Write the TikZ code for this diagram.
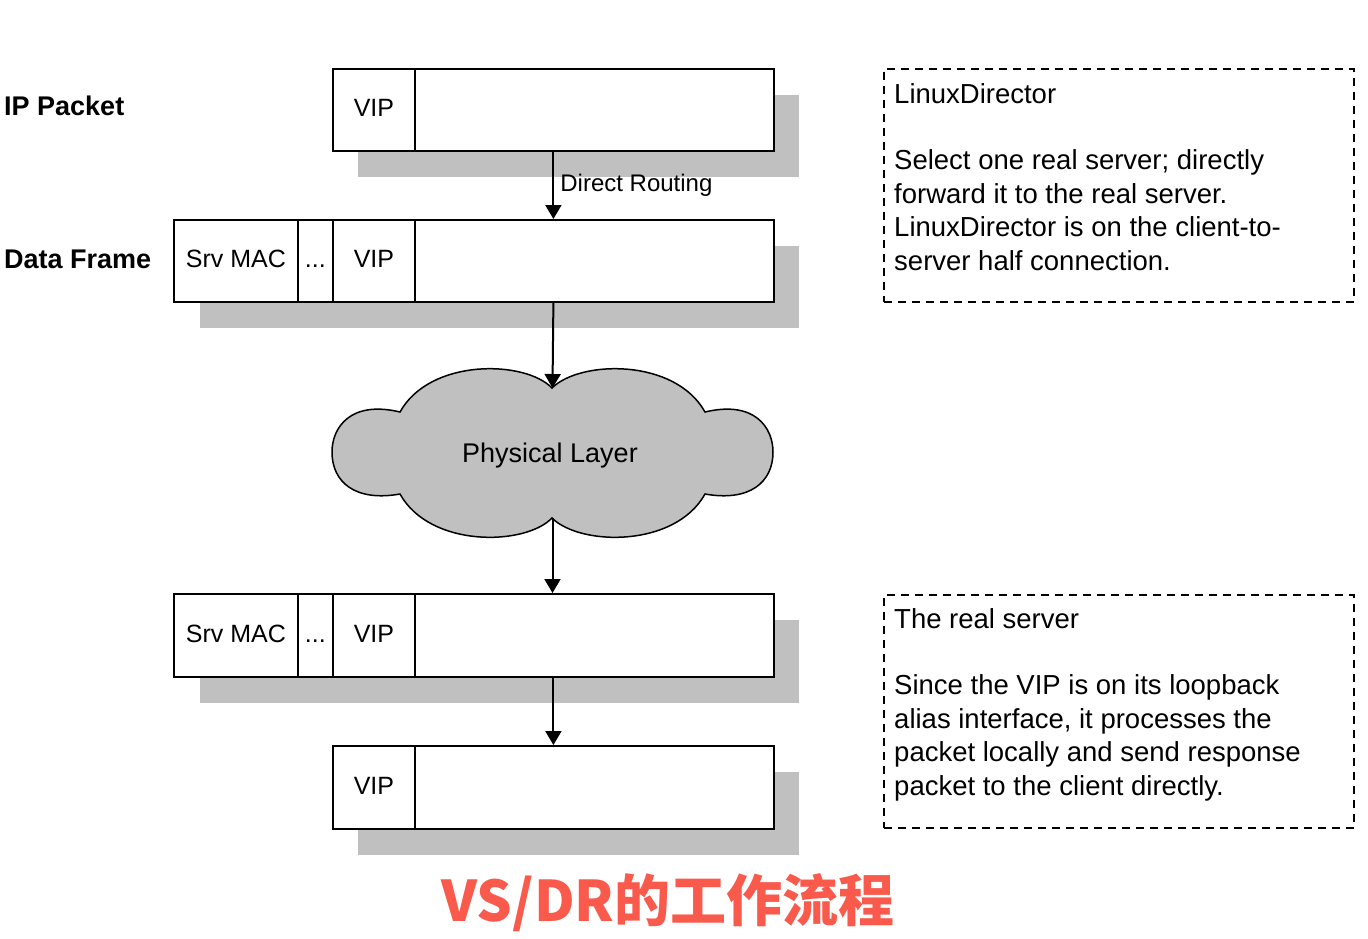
\documentclass[tikz,border=0pt]{standalone}
\usepackage{fontspec}
\setmainfont{Liberation Sans}
\newfontfamily\cjk{Noto Sans CJK SC}
\usetikzlibrary{arrows.meta}
\definecolor{shadowgray}{HTML}{C0C0C0}
\definecolor{capred}{HTML}{F95A4C}
\begin{document}
\begin{tikzpicture}[x=1pt,y=-1pt,
  cell/.style={draw=black, line width=1.8pt, fill=white, minimum height=82pt, anchor=north west, inner sep=0pt, text height=19pt, text depth=5pt, font=\fontsize{25}{30}\selectfont},
  outline/.style={draw=black, line width=1.8pt, minimum height=82pt, anchor=north west, inner sep=0pt},
  arr/.style={line width=2pt, -{Triangle[width=16pt,length=14pt]}},
  dbox/.style={draw=black, line width=1.8pt, dash pattern=on 8pt off 6pt, anchor=north west, minimum width=470pt, minimum height=233pt, inner sep=0pt},
  note/.style={anchor=north west, align=left, inner sep=0pt, font=\fontsize{27.5}{33.4}\selectfont},
  lbl/.style={anchor=base west, inner sep=0pt, font=\bfseries\fontsize{27}{32}\selectfont},
  captxt/.style={anchor=base, inner sep=0pt, font=\cjk\bfseries\fontsize{56}{60}\selectfont}
]
\useasboundingbox[fill=white] (0,0) rectangle (1368,938);

% labels
\node[lbl] (lip) at (4,115) {IP Packet};
\node[lbl] (ldf) at (4,268) {Data Frame};

% packet 1
\fill[shadowgray] (358,95) rectangle (799,177);
\node[cell, minimum width=82pt] (v1) at (332,68) {VIP};
\node[cell, minimum width=359pt] (d1) at (414,68) {};
\node[outline, minimum width=441pt] (p1) at (332,68) {};

% packet 2
\fill[shadowgray] (200,246) rectangle (799,328);
\node[cell, minimum width=124pt] (m2) at (173,219) {Srv MAC};
\node[cell, minimum width=35pt] (e2) at (297,219) {...};
\node[cell, minimum width=82pt] (v2) at (332,219) {VIP};
\node[cell, minimum width=359pt] (d2) at (414,219) {};
\node[outline, minimum width=600pt] (p2) at (173,219) {};

% cloud
\draw[line width=1.5pt, fill=shadowgray]
  (552,388) .. controls (525,360) and (430,358) .. (400,412)
  .. controls (350,400) and (332,428) .. (332,452)
  .. controls (332,482) and (355,502) .. (400,494)
  .. controls (430,548) and (525,546) .. (552,518)
  .. controls (580,546) and (675,548) .. (705,494)
  .. controls (750,502) and (773,482) .. (773,452)
  .. controls (773,428) and (755,400) .. (705,412)
  .. controls (675,358) and (580,360) .. (552,388) -- cycle;
\coordinate (ctop) at (552.5,388);
\coordinate (cbot) at (552.5,518);
\node[anchor=base, inner sep=0pt, font=\fontsize{27}{32}\selectfont] (cloud) at (550,462) {Physical Layer};

% packet 3
\fill[shadowgray] (200,620) rectangle (799,703);
\node[cell, minimum width=124pt, minimum height=83pt] (m3) at (173,593) {Srv MAC};
\node[cell, minimum width=35pt, minimum height=83pt] (e3) at (297,593) {...};
\node[cell, minimum width=82pt, minimum height=83pt] (v3) at (332,593) {VIP};
\node[cell, minimum width=359pt, minimum height=83pt] (d3) at (414,593) {};
\node[outline, minimum width=600pt, minimum height=83pt] (p3) at (173,593) {};

% packet 4
\fill[shadowgray] (358,772) rectangle (799,855);
\node[cell, minimum width=82pt, minimum height=83pt] (v4) at (332,745) {VIP};
\node[cell, minimum width=359pt, minimum height=83pt] (d4) at (414,745) {};
\node[outline, minimum width=441pt, minimum height=83pt] (p4) at (332,745) {};

% connectors
\draw[arr] (p1.south) -- node[right=6pt, inner sep=0pt, font=\fontsize{24}{28}\selectfont] {Direct Routing} (p1.south |- p2.north);
\draw[arr] (p1.south |- p2.south) -- (ctop);
\draw[arr] (cbot) -- (cbot |- p3.north);
\draw[arr] (p1.south |- p3.south) -- (p4.north);

% notes
\node[dbox] (n1) at (883,68) {};
\node[note] (t1) at (894,83) {LinuxDirector\\[33.4pt]Select one real server; directly\\forward it to the real server.\\LinuxDirector is on the client-to-\\server half connection.};
\node[dbox] (n2) at (883,594) {};
\node[note] (t2) at (894,608) {The real server\\[33.4pt]Since the VIP is on its loopback\\alias interface, it processes the\\packet locally and send response\\packet to the client directly.};

% caption
\node[captxt, text=capred] (cap) at (668,921) {VS/DR的工作流程};
\end{tikzpicture}
\end{document}
